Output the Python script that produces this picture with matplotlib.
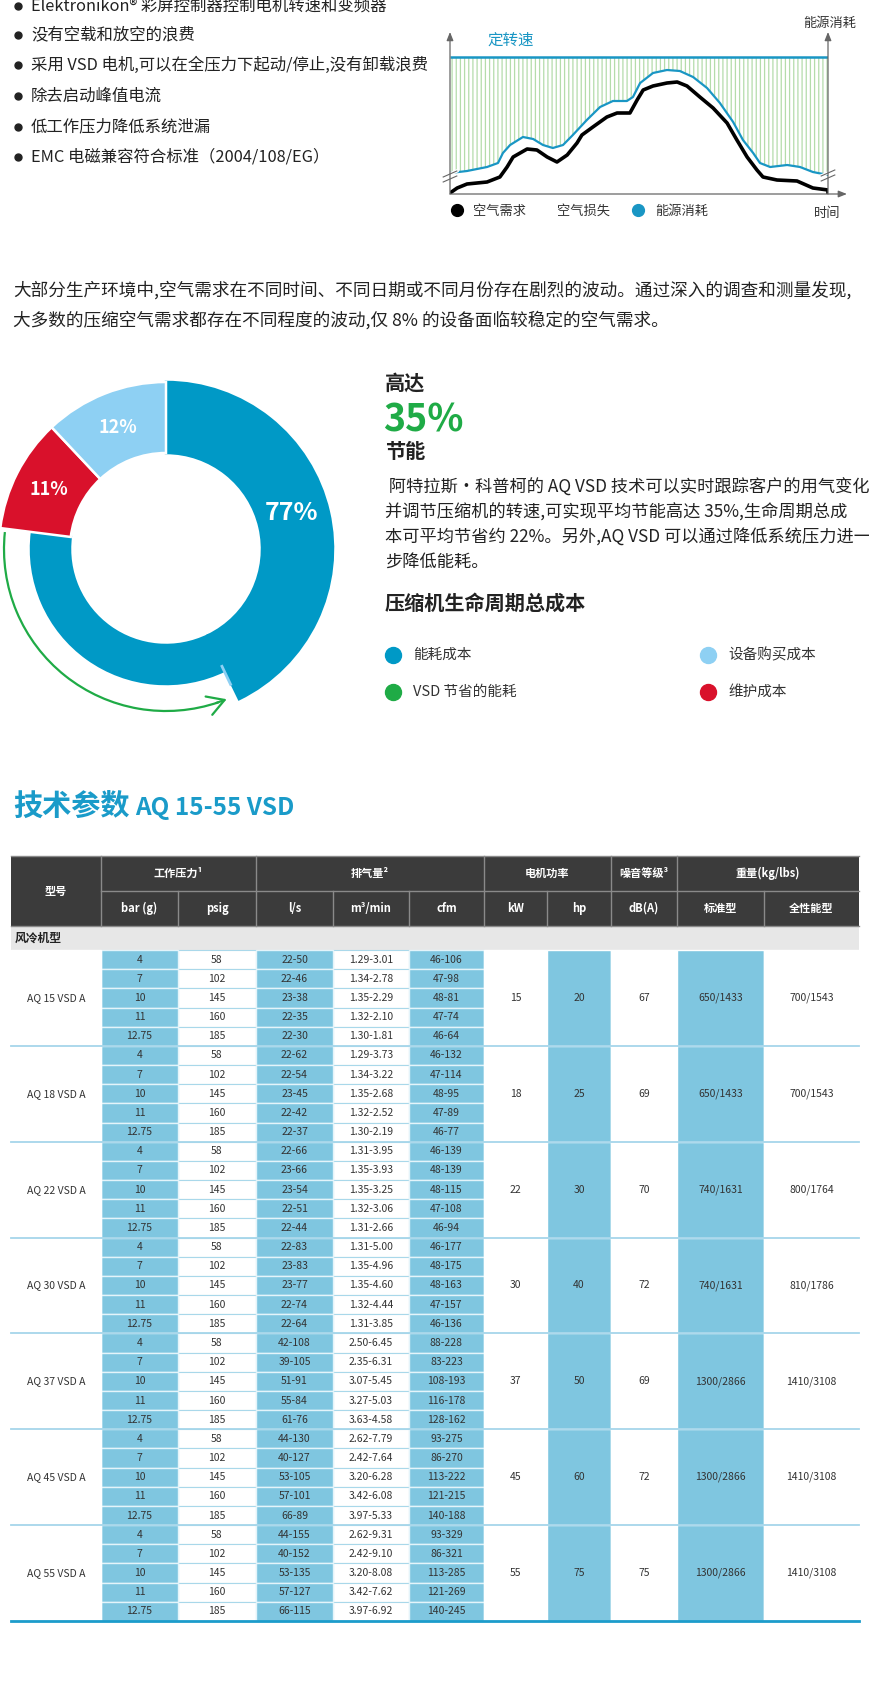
import numpy as np
import matplotlib
matplotlib.use("Agg")
import matplotlib.pyplot as plt
from matplotlib.patches import Rectangle, Arc

plt.rcParams['font.family'] = ['Noto Sans CJK SC', 'DejaVu Sans']
plt.rcParams['hatch.linewidth'] = 0.9

W, H = 870, 1682

# ---------------- data ----------------
bullets = [
    "Elektronikon® 彩屏控制器控制电机转速和变频器",
    "没有空载和放空的浪费",
    "采用 VSD 电机,可以在全压力下起动/停止,没有卸载浪费",
    "除去启动峰值电流",
    "低工作压力降低系统泄漏",
    "EMC 电磁兼容符合标准（2004/108/EG）",
]

# energy curve (blue) and air demand (black), time 0-100, level 0-162
energy_t = [0, 4.5, 9.8, 12.7, 14.0, 15.9, 19.3, 22.0, 24.6, 27.2, 29.9, 32.5, 36.2,
            39.7, 43.1, 46.8, 48.4, 50.3, 53.7, 57.4, 60.8, 64.3, 68.0, 71.4, 74.9,
            77.5, 80.2, 82.0, 84.7, 89.2, 92.6, 96.0, 100]
energy_v = [21, 23, 27, 31, 41, 49, 57, 55, 49, 46, 49, 59, 74,
            87, 93, 93, 97, 111, 121, 124, 123, 117, 106, 91, 72,
            54, 41, 31, 27, 29, 27, 22, 19]
demand_t = [0, 1.9, 4.5, 9.8, 13.2, 15.1, 16.7, 20.4, 23.0, 25.7, 28.3, 31.0, 33.6,
            34.9, 37.8, 41.5, 44.2, 47.6, 49.5, 51.1, 53.7, 57.4, 60.1, 62.7, 66.1,
            69.6, 73.3, 75.9, 78.6, 81.2, 82.8, 86.5, 91.8, 96.0, 100, 100]
demand_v = [1, 6, 10, 12, 17, 27, 37, 45, 44, 37, 32, 39, 51,
            59, 67, 77, 81, 81, 94, 104, 108, 111, 112, 108, 97,
            86, 71, 54, 37, 24, 17, 14, 13, 6, 4, 0]
fixed_speed = 137

intro = [
    "大部分生产环境中,空气需求在不同时间、不同日期或不同月份存在剧烈的波动。通过深入的调查和测量发现,",
    "大多数的压缩空气需求都存在不同程度的波动,仅 8% 的设备面临较稳定的空气需求。",
]

cost_labels = ["能耗成本", "维护成本", "设备购买成本"]
cost_shares = [77, 11, 12]
# energy share split: outer part / part reduced by VSD
pie_parts = [42.8, 34.2, 11, 12]

savings_text = [
    " 阿特拉斯·科普柯的 AQ VSD 技术可以实时跟踪客户的用气变化",
    "并调节压缩机的转速,可实现平均节能高达 35%,生命周期总成",
    "本可平均节省约 22%。另外,AQ VSD 可以通过降低系统压力进一",
    "步降低能耗。",
]
legend_items = [("能耗成本", "#0099c6"), ("设备购买成本", "#8ed0f3"),
                ("VSD 节省的能耗", "#1fab46"), ("维护成本", "#d9112b")]

models = ["AQ 15 VSD A", "AQ 18 VSD A", "AQ 22 VSD A", "AQ 30 VSD A",
          "AQ 37 VSD A", "AQ 45 VSD A", "AQ 55 VSD A"]
bar_g = ["4", "7", "10", "11", "12.75"]
psig = ["58", "102", "145", "160", "185"]
flow_ls = [
    ["22-50", "22-46", "23-38", "22-35", "22-30"],
    ["22-62", "22-54", "23-45", "22-42", "22-37"],
    ["22-66", "23-66", "23-54", "22-51", "22-44"],
    ["22-83", "23-83", "23-77", "22-74", "22-64"],
    ["42-108", "39-105", "51-91", "55-84", "61-76"],
    ["44-130", "40-127", "53-105", "57-101", "66-89"],
    ["44-155", "40-152", "53-135", "57-127", "66-115"],
]
flow_m3 = [
    ["1.29-3.01", "1.34-2.78", "1.35-2.29", "1.32-2.10", "1.30-1.81"],
    ["1.29-3.73", "1.34-3.22", "1.35-2.68", "1.32-2.52", "1.30-2.19"],
    ["1.31-3.95", "1.35-3.93", "1.35-3.25", "1.32-3.06", "1.31-2.66"],
    ["1.31-5.00", "1.35-4.96", "1.35-4.60", "1.32-4.44", "1.31-3.85"],
    ["2.50-6.45", "2.35-6.31", "3.07-5.45", "3.27-5.03", "3.63-4.58"],
    ["2.62-7.79", "2.42-7.64", "3.20-6.28", "3.42-6.08", "3.97-5.33"],
    ["2.62-9.31", "2.42-9.10", "3.20-8.08", "3.42-7.62", "3.97-6.92"],
]
flow_cfm = [
    ["46-106", "47-98", "48-81", "47-74", "46-64"],
    ["46-132", "47-114", "48-95", "47-89", "46-77"],
    ["46-139", "48-139", "48-115", "47-108", "46-94"],
    ["46-177", "48-175", "48-163", "47-157", "46-136"],
    ["88-228", "83-223", "108-193", "116-178", "128-162"],
    ["93-275", "86-270", "113-222", "121-215", "140-188"],
    ["93-329", "86-321", "113-285", "121-269", "140-245"],
]
power_kw = ["15", "18", "22", "30", "37", "45", "55"]
power_hp = ["20", "25", "30", "40", "50", "60", "75"]
noise_db = ["67", "69", "70", "72", "69", "72", "75"]
weight_std = ["650/1433", "650/1433", "740/1631", "740/1631", "1300/2866", "1300/2866", "1300/2866"]
weight_full = ["700/1543", "700/1543", "800/1764", "810/1786", "1410/3108", "1410/3108", "1410/3108"]

head_groups = [("工作压力¹", 1, 3), ("排气量²", 3, 6), ("电机功率", 6, 8),
               ("噪音等级³", 8, 9), ("重量(kg/lbs)", 9, 11)]
head_units = ["bar (g)", "psig", "l/s", "m³/min", "cfm", "kW", "hp", "dB(A)", "标准型", "全性能型"]

# ---------------- layout ----------------
BLUE = "#0099c6"
LBLUE = "#8ed0f3"
RED = "#d9112b"
GREEN = "#1fab46"
LINEBLUE = "#1996c4"
TXT = "#222222"
TBLUE = "#7fc6e0"


def px_rect(x0, y0, w, h):
    return [x0 / W, 1 - (y0 + h) / H, w / W, h / H]


fig = plt.figure(figsize=(W / 100, H / 100), dpi=100)
bg = fig.add_axes([0, 0, 1, 1])
bg.set_xlim(0, W)
bg.set_ylim(H, 0)
bg.axis('off')

# bullets
for i, b in enumerate(bullets):
    y = [6, 35, 65, 96, 127, 157][i]
    bg.plot(18, y, 'o', ms=5, color=TXT)
    bg.text(31, y, b, fontsize=11.8, color=TXT, va='center')

# ---------------- line chart ----------------
ax = fig.add_axes(px_rect(450, 32, 378, 162))
ax.set_xlim(0, 100)
ax.set_ylim(0, 162)
ax.axis('off')
ax.fill_between(energy_t, energy_v, fixed_speed, facecolor='white', edgecolor='#b4dcab',
                hatch='||||', linewidth=0)
ax.plot([0, 100], [fixed_speed, fixed_speed], color=LINEBLUE, lw=1.8, solid_capstyle='butt')
ax.plot(demand_t, demand_v, color='black', lw=2.6, solid_joinstyle='round')
ax.plot(energy_t, energy_v, color=LINEBLUE, lw=1.6, solid_joinstyle='round')
arrow = dict(arrowstyle='-|>,head_length=0.5,head_width=0.2', color='#666666', lw=0.9,
             mutation_scale=10, shrinkA=0, shrinkB=0)
for tx in (0, 100):
    ax.annotate('', xy=(tx, 162), xytext=(tx, 0), arrowprops=arrow, annotation_clip=False)
ax.annotate('', xy=(105, 0), xytext=(0, 0), arrowprops=arrow, annotation_clip=False)
for tx, vy in ((0, 12), (100, 13)):
    for dv in (0, 5):
        ax.plot([tx - 1.8, tx + 1.8], [vy + dv, vy + dv + 6], color='white', lw=2.5, clip_on=False)
    for dv in (0, 5):
        ax.plot([tx - 1.8, tx + 1.8], [vy + dv, vy + dv + 6], color='#666666', lw=0.8, clip_on=False)

bg.text(487, 40, "定转速", fontsize=11.2, color=LINEBLUE, va='center')
bg.text(485, 82, "VSD 节省", fontsize=11, color=TXT, va='center')
bg.text(459, 155, "VSD", fontsize=11, color=LINEBLUE, va='center')
bg.text(803, 23, "能源消耗", fontsize=9.5, color='#333333', va='center')
bg.text(827, 213, "时间", fontsize=9.5, color='#333333', va='center', ha='center')
bg.plot(457, 210, 'o', ms=8.5, color='black')
bg.text(473, 211, "空气需求", fontsize=9.5, color='#333333', va='center')
bg.text(557, 211, "空气损失", fontsize=9.5, color='#333333', va='center')
bg.plot(638, 210, 'o', ms=8.5, color=LINEBLUE)
bg.text(655, 211, "能源消耗", fontsize=9.5, color='#333333', va='center')

# intro paragraph
for i, line in enumerate(intro):
    bg.text(13, 290 + 30 * i, line, fontsize=12.7, color=TXT, va='center')

# ---------------- donut ----------------
dax = fig.add_axes(px_rect(166 - 200, 549 - 200, 400, 400))
wedges, _ = dax.pie(pie_parts, startangle=90, counterclock=False, radius=167,
                    colors=[BLUE, BLUE, RED, LBLUE],
                    wedgeprops=dict(width=71, edgecolor='white', linewidth=1.8))
wedges[0].set_edgecolor(BLUE)
wedges[1].set_edgecolor(BLUE)
wedges[1].set_radius(135)
wedges[1].set_width(39)
dax.set_xlim(-200, 200)
dax.set_ylim(-200, 200)
dax.set_aspect('equal')
dax.axis('off')
a = np.deg2rad(-64.5)
dax.plot([130 * np.cos(a), 150 * np.cos(a)], [130 * np.sin(a), 150 * np.sin(a)], color=LBLUE, lw=2)
dax.add_patch(Arc((0, 0), 324, 324, theta1=174, theta2=289, color=GREEN, lw=1.6))
a1, a2 = np.deg2rad(288), np.deg2rad(292)
dax.annotate('', xy=(162 * np.cos(a2), 162 * np.sin(a2)), xytext=(162 * np.cos(a1), 162 * np.sin(a1)),
             arrowprops=dict(arrowstyle='->,head_length=0.6,head_width=0.35', color=GREEN, lw=1.6,
                             mutation_scale=20, shrinkA=0, shrinkB=0))
# labels: small segments at mid angle, energy label on the right side
for share, w in zip(cost_shares[1:], wedges[2:]):
    mid = np.deg2rad((w.theta1 + w.theta2) / 2)
    dax.text(131 * np.cos(mid), 131 * np.sin(mid), f"{share}%", color='white', fontsize=13,
             fontweight='bold', ha='center', va='center')
dax.text(126, 36, f"{cost_shares[0]}%", color='white', fontsize=18, fontweight='bold',
         ha='center', va='center')

# right text block
bg.text(385, 383, "高达", fontsize=14.5, fontweight='bold', color=TXT, va='center')
bg.text(383, 420, "35%", fontsize=27, fontweight='bold', color=GREEN, va='center')
bg.text(385, 451, "节能", fontsize=14.5, fontweight='bold', color=TXT, va='center')
for i, line in enumerate(savings_text):
    bg.text(385, 488 + 24.7 * i, line, fontsize=12.4, color=TXT, va='center')
bg.text(385, 603, "压缩机生命周期总成本", fontsize=14.5, fontweight='bold', color=TXT, va='center')
for i, (lab, col) in enumerate(legend_items):
    x = 393 if i % 2 == 0 else 708
    y = 655 if i < 2 else 692
    bg.plot(x, y, 'o', ms=11.5, color=col)
    bg.text(x + 20, y, lab, fontsize=10.5, color='#333333', va='center')

# ---------------- table ----------------
bg.text(13, 806, "技术参数", fontsize=21, fontweight='bold', color="#1a9bc9", va='center')
bg.text(135, 808, "AQ 15-55 VSD", fontsize=17.5, fontweight='bold', color="#1a9bc9", va='center')

col_x = [11, 101, 178, 256, 333, 409, 484, 547, 611, 677, 764, 859]
top, h1, h2, sec, bottom = 856, 891, 926, 950, 1621
rh = (bottom - sec) / 35
blue_cols = {1, 3, 5, 7, 9}
grid = '#8a8a8a'

bg.add_patch(Rectangle((col_x[0], top), col_x[-1] - col_x[0], h2 - top, fc='#3b3b3b', ec='none'))
bg.plot([col_x[0], col_x[-1]], [top, top], color=grid, lw=1)
bg.plot([col_x[1], col_x[-1]], [h1, h1], color=grid, lw=1)
bg.plot([col_x[0], col_x[-1]], [h2, h2], color=grid, lw=1)
for k in range(1, len(col_x) - 1):
    y0 = top if k in (1, 3, 6, 8, 9) else h1
    bg.plot([col_x[k], col_x[k]], [y0, h2], color=grid, lw=1)
bg.text((col_x[0] + col_x[1]) / 2, (top + h2) / 2, "型号", color='white', fontsize=8,
        fontweight='bold', ha='center', va='center')
for lab, c0, c1 in head_groups:
    bg.text((col_x[c0] + col_x[c1]) / 2, (top + h1) / 2, lab, color='white', fontsize=8,
            fontweight='bold', ha='center', va='center')
for k, lab in enumerate(head_units):
    bg.text((col_x[k + 1] + col_x[k + 2]) / 2, (h1 + h2) / 2, lab, color='white', fontsize=8,
            fontweight='bold', ha='center', va='center')

bg.add_patch(Rectangle((col_x[0], h2), col_x[-1] - col_x[0], sec - h2, fc='#e7e7e7', ec='none'))
bg.text(15, (h2 + sec) / 2, "风冷机型", fontsize=8.5, fontweight='bold', color=TXT, va='center')

for g, name in enumerate(models):
    gy = sec + g * 5 * rh
    rows = [bar_g, psig, flow_ls[g], flow_m3[g], flow_cfm[g]]
    # per-row cells: white first, then blue on top
    for pass_blue in (False, True):
        for c, vals in enumerate(rows, start=1):
            if (c in blue_cols) != pass_blue:
                continue
            for r in range(5):
                y = gy + r * rh
                if pass_blue:
                    bg.add_patch(Rectangle((col_x[c], y), col_x[c + 1] - col_x[c], rh,
                                           fc=TBLUE, ec='#e4f4fa', lw=1))
                else:
                    bg.add_patch(Rectangle((col_x[c], y), col_x[c + 1] - col_x[c], rh,
                                           fc='white', ec='#a9d8ea', lw=0.8))
    for c, vals in enumerate(rows, start=1):
        for r in range(5):
            bg.text((col_x[c] + col_x[c + 1]) / 2, gy + (r + 0.5) * rh, vals[r],
                    fontsize=7.5, color='#333333', ha='center', va='center')
    merged = {0: name, 6: power_kw[g], 7: power_hp[g], 8: noise_db[g],
              9: weight_std[g], 10: weight_full[g]}
    for c, val in merged.items():
        fc = TBLUE if c in blue_cols else 'white'
        bg.add_patch(Rectangle((col_x[c], gy), col_x[c + 1] - col_x[c], 5 * rh, fc=fc, ec='white', lw=1))
        bg.text((col_x[c] + col_x[c + 1]) / 2, gy + 2.5 * rh, val, fontsize=7.5,
                color='#333333', ha='center', va='center')
    if g > 0:
        bg.plot([col_x[0], col_x[-1]], [gy, gy], color='#a6d6ea', lw=1.3)
bg.plot([col_x[0], col_x[-1]], [bottom, bottom], color='#1c9ccb', lw=2)

fig.savefig("out.png", dpi=100)
